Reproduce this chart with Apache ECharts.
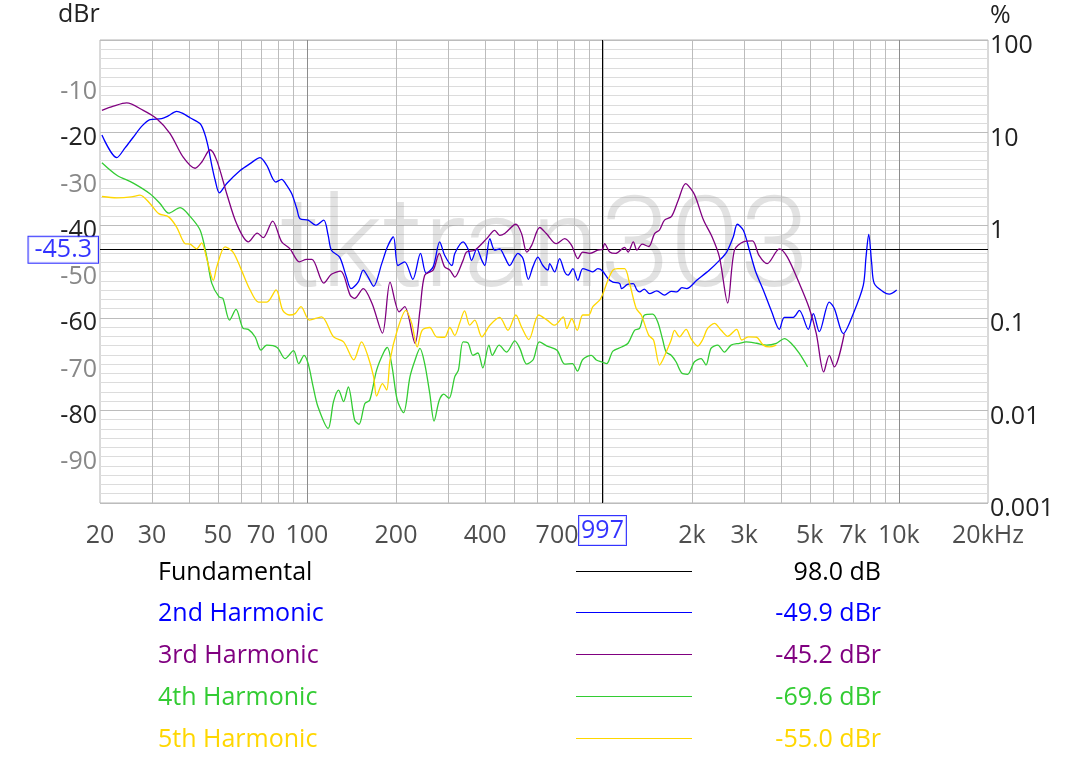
<!DOCTYPE html>
<html>
<head>
<meta charset="utf-8">
<script src="https://cdn.jsdelivr.net/npm/echarts@6/dist/echarts.min.js"></script>
<style>html,body{margin:0;padding:0;background:#fff}#c{width:1070px;height:760px}</style>
</head>
<body>
<div id="c"></div>
<script>
// ---- data (frequency Hz, level dBr) ----
const h2 = [[20.3,-20.5],[22.8,-25.4],[24.3,-23.3],[25.9,-21.0],[27.7,-18.6],[29.5,-17.2],[32.3,-17.0],[34.0,-16.4],[36.3,-15.4],[38.2,-15.9],[40.3,-16.8],[43.6,-18.1],[45.3,-20.5],[46.4,-23.1],[47.7,-27.0],[49.0,-30.3],[50.6,-33.0],[53.6,-31.0],[59.5,-28.2],[64.3,-26.7],[69.5,-25.4],[73.2,-27.1],[78.5,-30.7],[82.2,-30.1],[84.7,-31.0],[88.9,-33.2],[92.5,-36.5],[94.8,-38.6],[101,-38.9],[107,-40.0],[114,-38.9],[118,-42.2],[121,-45.4],[129,-46.9],[136,-51.2],[141,-53.7],[149,-52.3],[155,-49.7],[161,-51.2],[168,-53.2],[179,-48.3],[187,-44.7],[196,-42.5],[203,-48.7],[214,-47.9],[228,-51.7],[242,-46.1],[253,-50.4],[267,-49.0],[281,-43.6],[292,-46.5],[309,-48.7],[316,-46.1],[337,-43.6],[350,-45.1],[360,-47.6],[375,-45.1],[390,-47.6],[399,-48.7],[415,-42.9],[431,-45.4],[448,-45.1],[466,-46.9],[484,-48.7],[504,-46.9],[516,-46.1],[537,-47.2],[560,-51.7],[580,-49.0],[603,-46.9],[627,-48.7],[652,-49.7],[661,-48.3],[687,-50.1],[714,-47.2],[743,-50.1],[762,-50.8],[792,-49.4],[823,-51.9],[855,-49.4],[889,-49.7],[925,-50.1],[961,-49.4],[997,-49.9],[1040,-51.5],[1081,-52.3],[1139,-52.6],[1157,-53.7],[1210,-52.8],[1267,-52.6],[1300,-53.9],[1330,-54.4],[1380,-53.8],[1438,-54.8],[1520,-54.2],[1615,-55.1],[1700,-54.3],[1776,-54.4],[1850,-53.5],[1919,-53.7],[2075,-51.9],[2291,-49.7],[2476,-47.6],[2619,-45.8],[2758,-42.5],[2845,-39.8],[2982,-41.1],[3126,-45.4],[3280,-50.0],[3482,-54.0],[3718,-58.7],[3947,-62.5],[4103,-59.9],[4398,-59.9],[4610,-58.4],[4942,-62.5],[5140,-59.1],[5384,-63.0],[5818,-56.6],[6051,-58.0],[6488,-63.4],[7012,-59.1],[7580,-53.0],[7740,-47.0],[7908,-42.0],[8094,-48.3],[8256,-52.6],[8859,-54.4],[9276,-54.9],[9832,-54.0]];

const h3 = [[20.3,-15.2],[22.2,-14.3],[24.6,-13.6],[28.0,-15.2],[31.1,-17.0],[34.5,-20.2],[38.2,-25.3],[41.9,-27.7],[44.1,-26.4],[47.1,-23.7],[49.6,-26.0],[53.6,-33.2],[57.9,-39.7],[63.4,-43.6],[68.0,-41.7],[71.2,-42.7],[76.6,-39.1],[82.2,-43.6],[87.7,-45.1],[94.3,-47.9],[99.8,-47.4],[104,-47.4],[114,-52.5],[121,-50.6],[130,-49.9],[140,-55.1],[145,-55.8],[155,-53.7],[166,-56.9],[180,-63.3],[191,-52.3],[205,-58.7],[214,-57.6],[232,-65.5],[241,-58.4],[250,-50.8],[267,-49.7],[280,-46.1],[292,-49.0],[304,-49.7],[316,-51.2],[337,-47.6],[346,-45.8],[369,-45.4],[405,-42.9],[431,-41.1],[448,-42.2],[466,-41.8],[508,-39.8],[531,-41.8],[553,-45.8],[575,-44.3],[612,-40.5],[644,-41.8],[696,-44.0],[743,-42.9],[783,-44.3],[823,-47.2],[855,-45.8],[902,-46.1],[961,-45.4],[997,-45.2],[1013,-44.0],[1054,-45.8],[1104,-46.1],[1184,-44.8],[1216,-45.8],[1267,-43.6],[1303,-45.4],[1357,-44.1],[1429,-44.6],[1495,-41.8],[1554,-41.0],[1615,-38.9],[1706,-38.1],[1797,-34.6],[1903,-31.0],[2021,-32.9],[2075,-34.6],[2187,-38.9],[2337,-42.5],[2476,-46.9],[2640,-56.8],[2782,-45.4],[2982,-43.6],[3200,-43.4],[3368,-46.5],[3588,-48.3],[3947,-45.1],[4200,-46.9],[4610,-52.6],[4983,-58.0],[5260,-63.4],[5570,-71.7],[5820,-68.1],[6051,-70.6],[6540,-63.4]];

const h4 = [[20.3,-26.5],[22.8,-29.2],[25.9,-30.9],[29.5,-33.2],[31.9,-35.3],[34.1,-37.4],[37.3,-36.2],[40.3,-38.1],[43.6,-41.1],[45.9,-46.9],[47.7,-52.5],[50.5,-55.5],[52.0,-55.8],[54.8,-60.5],[57.6,-58.2],[60.9,-62.3],[63.4,-62.5],[66.8,-64.1],[70.0,-67.0],[73.2,-65.9],[79.3,-66.4],[84.4,-68.8],[90.1,-67.1],[93.9,-69.9],[97.8,-68.1],[101,-69.9],[105,-74.9],[109,-79.2],[118,-83.9],[123,-78.1],[128,-75.6],[133,-78.1],[138,-74.9],[145,-82.1],[150,-83.0],[157,-78.5],[163,-77.8],[172,-71.3],[182,-67.4],[187,-66.4],[194,-70.6],[202,-77.8],[212,-80.5],[223,-72.7],[232,-69.1],[241,-66.6],[250,-69.9],[260,-76.3],[269,-82.3],[280,-77.8],[290,-76.5],[302,-77.4],[316,-72.7],[325,-71.3],[337,-65.2],[350,-65.4],[364,-68.1],[378,-67.6],[393,-70.8],[412,-65.9],[423,-68.1],[446,-65.9],[473,-67.4],[504,-65.0],[524,-66.6],[553,-70.0],[582,-69.0],[610,-65.2],[648,-66.1],[700,-67.0],[743,-70.0],[789,-69.9],[820,-71.5],[855,-69.0],[914,-68.1],[950,-69.1],[997,-69.6],[1030,-69.9],[1081,-67.2],[1157,-66.3],[1216,-65.5],[1279,-62.7],[1330,-62.3],[1383,-59.4],[1472,-59.2],[1532,-60.9],[1593,-64.8],[1636,-67.4],[1701,-68.1],[1766,-69.5],[1850,-72.0],[1932,-72.2],[2039,-69.5],[2146,-68.8],[2230,-70.2],[2318,-66.6],[2443,-65.9],[2574,-67.4],[2711,-65.9],[2893,-65.5],[3047,-65.2],[3302,-65.5],[3569,-65.9],[3855,-65.5],[4103,-64.5],[4325,-65.5],[4610,-67.7],[4914,-70.6]];

const h5 = [[20.3,-33.8],[22.8,-34.1],[25.5,-33.9],[27.3,-33.5],[29.5,-35.3],[31.6,-37.5],[34.1,-38.2],[36.3,-40.4],[38.8,-44.0],[40.3,-44.1],[42.4,-45.1],[44.1,-43.8],[46.0,-47.5],[48.3,-51.9],[49.6,-49.0],[52.9,-44.7],[56.3,-45.8],[60.1,-49.7],[64.3,-54.0],[68.6,-56.6],[73.2,-56.6],[78.7,-54.0],[82.9,-58.4],[87.3,-59.4],[91.2,-59.1],[95.5,-57.6],[102,-60.5],[112,-59.8],[123,-64.1],[133,-65.2],[144,-69.1],[153,-65.2],[161,-68.4],[168,-72.7],[172,-76.9],[180,-74.2],[186,-75.6],[191,-69.1],[202,-62.7],[216,-58.4],[226,-61.2],[236,-66.3],[245,-62.7],[260,-62.1],[274,-64.1],[292,-64.2],[304,-62.1],[316,-63.8],[328,-61.2],[341,-58.5],[355,-61.6],[369,-60.5],[390,-64.1],[415,-61.6],[448,-59.9],[478,-62.7],[508,-59.4],[531,-62.0],[562,-64.7],[607,-59.4],[648,-60.5],[687,-61.6],[735,-59.8],[755,-62.3],[785,-60.2],[819,-62.7],[855,-59.4],[895,-59.4],[925,-57.6],[975,-56.2],[997,-55.0],[1040,-51.9],[1081,-49.7],[1124,-49.4],[1184,-49.4],[1231,-52.6],[1296,-58.0],[1348,-59.4],[1429,-63.8],[1483,-64.8],[1554,-70.2],[1593,-69.1],[1636,-67.4],[1701,-64.8],[1746,-62.7],[1815,-64.1],[1910,-62.5],[1985,-64.5],[2091,-66.1],[2170,-64.8],[2258,-62.3],[2382,-61.2],[2510,-62.7],[2640,-64.0],[2830,-62.5],[2945,-64.8],[3100,-64.1],[3302,-64.2],[3482,-65.9],[3652,-66.3],[3855,-65.9]];

// ---- axes / labels ----
const xTickValues = [20,30,50,70,100,200,400,700,2000,3000,5000,7000,10000,20000];
const xTickLabels = ['20','30','50','70','100','200','400','700','2k','3k','5k','7k','10k','20kHz'];
const gridFreqs = [30,40,50,60,70,80,90,100,200,300,400,500,600,700,800,900,1000,2000,3000,4000,5000,6000,7000,8000,9000,10000];
const majorFreqs = [100,10000];
const leftTicks = [-90,-80,-70,-60,-50,-40,-30,-20,-10];
const leftMajor = [-80,-60,-40,-20];
const pctTicks = [-100,-80,-60,-40,-20,0];
const pctLabels = ['0.001','0.01','0.1','1','10','100'];
const cursorFreq = 997;
const cursorDb = -45.3;

// ---- legend ----
const legendNames = ['Fundamental','2nd Harmonic','3rd Harmonic','4th Harmonic','5th Harmonic'];
const legendValues = ['98.0 dB','-49.9 dBr','-45.2 dBr','-69.6 dBr','-55.0 dBr'];
const colors = ['#000000','#0000ff','#800080','#33cc33','#ffd700'];
const harmonicSeries = [h2,h3,h4,h5];

const FONT = '"Open Sans", "Noto Sans", sans-serif';
const FS = 25;

const chart = echarts.init(document.getElementById('c'), null, {renderer:'canvas', width:1070, height:760});

const series = [];
// vertical grid lines
series.push({
  type:'line', name:'vgrid', data:[[20,-100]], symbol:'none', silent:true,
  lineStyle:{opacity:0}, z:1,
  markLine:{silent:true, symbol:['none','none'], label:{show:false}, z:1, animation:false,
    data: gridFreqs.map(f => ({xAxis:f, lineStyle:{color: majorFreqs.includes(f) ? '#8c8c8c' : '#bcbcbc', width:1, type:'solid'}}))}
});
// harmonics
harmonicSeries.forEach((d,i) => {
  series.push({type:'line', name:legendNames[i+1], data:d, symbol:'none', showSymbol:false,
    smooth:0.3, clip:true, z:3, lineStyle:{color:colors[i+1], width:1.3}, silent:true});
});
// cursor
series.push({
  type:'scatter', name:'cursor', data:[[cursorFreq, cursorDb]], symbolSize:0, silent:true, z:2,
  markLine:{silent:true, symbol:['none','none'], label:{show:false}, z:2, animation:false,
    lineStyle:{color:'#000', width:1, type:'solid'},
    data:[{yAxis:cursorDb},{xAxis:cursorFreq}]}
});
// x tick labels
series.push({
  type:'scatter', name:'xlabels', clip:false, silent:true, symbolSize:0, z:4,
  data: xTickValues.map((f,i) => ({value:[f,-100], label:{formatter: xTickLabels[i]}})),
  label:{show:true, position:'bottom', distance:20, color:'#222', fontSize:FS, fontFamily:FONT, lineHeight:26}
});
// cursor boxes
series.push({
  type:'scatter', name:'cursorBoxes', clip:false, silent:true, symbolSize:0, z:5,
  data:[
    {value:[20, cursorDb], label:{position:'left', distance:2, formatter: cursorDb.toFixed(1), padding:[1,6,0,6], lineHeight:25}},
    {value:[cursorFreq, -100], label:{position:'bottom', distance:13, formatter: String(cursorFreq), padding:[1,2,0,2], lineHeight:28}}
  ],
  label:{show:true, color:'#0000ff', fontSize:FS, fontFamily:FONT, borderColor:'#0000ff', borderWidth:1, backgroundColor:'#fff'}
});

const hLineColors = ['#bcbcbc','#dcdcdc','#dcdcdc','#dcdcdc','#dcdcdc','#dcdcdc','#dcdcdc','#dcdcdc','#dcdcdc','#dcdcdc'];

const graphic = [
  {type:'text', x:58, y:15, z:10, style:{text:'dBr', fill:'#222', font:FS+'px '+FONT, textAlign:'left', align:'left', textVerticalAlign:'middle', verticalAlign:'middle'}},
  {type:'text', x:990, y:16, z:10, style:{text:'%', fill:'#222', font:FS+'px '+FONT, textAlign:'left', align:'left', textVerticalAlign:'middle', verticalAlign:'middle'}},
  {type:'text', x:545, y:254, z:1, style:{text:'tktran303', fill:'rgba(140,140,140,0.25)', font:'300 126px Roboto, "Open Sans", sans-serif', textAlign:'center', align:'center', textVerticalAlign:'middle', verticalAlign:'middle'}}
];
const rowY = [571, 612, 654, 696, 738];
legendNames.forEach((n,i) => {
  graphic.push({type:'text', x:158, y:rowY[i]+2, z:10, style:{text:n, fill:colors[i], font:FS+'px '+FONT, textAlign:'left', align:'left', textVerticalAlign:'middle', verticalAlign:'middle'}});
  graphic.push({type:'rect', z:10, shape:{x:576, y:rowY[i], width:116, height:1}, style:{fill:colors[i], stroke:null}});
  graphic.push({type:'text', x:881, y:rowY[i]+2, z:10, style:{text:legendValues[i], fill:colors[i], font:FS+'px '+FONT, textAlign:'right', align:'right', textVerticalAlign:'middle', verticalAlign:'middle'}});
});

chart.setOption({
  animation:false,
  backgroundColor:'#fff',
  textStyle:{fontFamily:FONT},
  grid:{left:100, top:40, width:888, height:463, show:true, borderColor:'#b4b4b4', borderWidth:1, backgroundColor:'transparent'},
  xAxis:{type:'log', logBase:10, min:20, max:20000, axisLine:{show:false}, axisTick:{show:false}, axisLabel:{show:false}, splitLine:{show:false}},
  yAxis:[
    {type:'value', min:-100, max:0, interval:2, position:'left', axisLine:{show:false}, axisTick:{show:false},
      splitLine:{show:true, lineStyle:{color:hLineColors, width:1}},
      axisLabel:{margin:3, fontSize:FS, fontFamily:FONT, verticalAlign:'top', lineHeight:11,
        color:(v) => leftMajor.includes(Number(v)) ? '#222' : '#888',
        formatter:(v) => leftTicks.includes(v) ? String(v) : ''}},
    {type:'value', min:-100, max:0, interval:20, position:'right', axisLine:{show:false}, axisTick:{show:false},
      splitLine:{show:false},
      axisLabel:{margin:2, color:'#222', fontSize:FS, fontFamily:FONT, verticalAlign:'top', lineHeight:12,
        formatter:(v) => { const k = pctTicks.indexOf(v); return k >= 0 ? pctLabels[k] : ''; }}}
  ],
  graphic: graphic,
  series: series
});
</script>
</body>
</html>
